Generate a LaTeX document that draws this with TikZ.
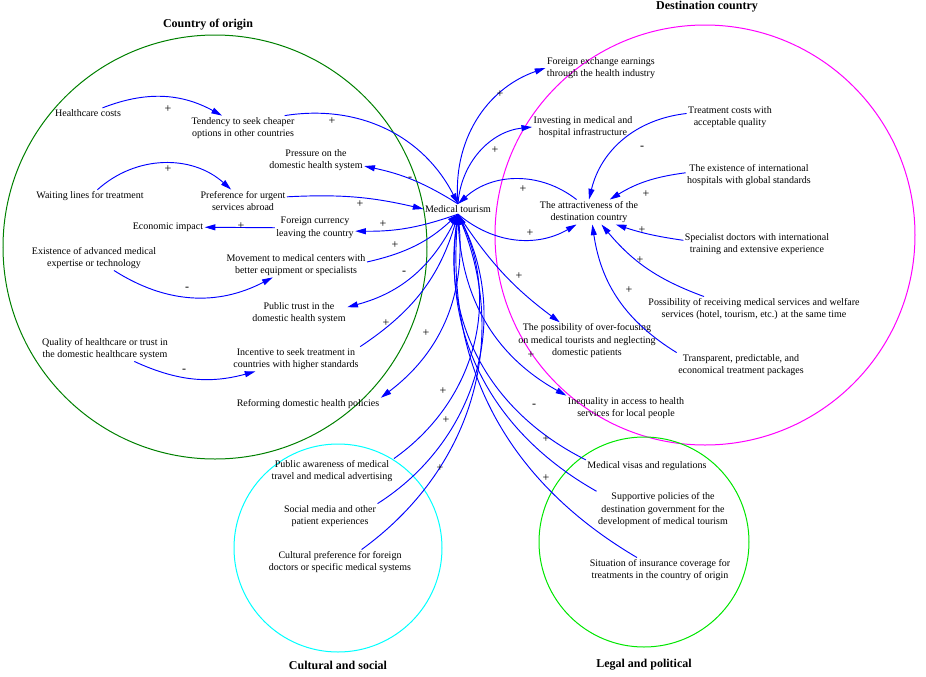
\documentclass[tikz,border=0pt]{standalone}
\usepackage{fontspec}
\setmainfont{Liberation Serif}
\usetikzlibrary{arrows.meta}
\definecolor{rimorigin}{RGB}{0,128,0}
\definecolor{rimdest}{RGB}{255,0,255}
\definecolor{rimculture}{RGB}{0,255,255}
\definecolor{rimlegal}{RGB}{0,230,0}
\definecolor{linkblue}{RGB}{0,0,255}

\begin{document}
\begin{tikzpicture}[x=0.75pt, y=0.75pt,
  var/.style={align=center, inner sep=1pt, font=\fontsize{7.5}{9.4}\selectfont},
  sign/.style={inner sep=0pt, font=\fontsize{9}{10}\selectfont},
  group/.style={font=\fontsize{9}{11}\selectfont\bfseries},
  region/.style={line width=0.75pt},
  link/.style={-{Triangle[length=8pt,width=4.5pt]}, linkblue, line width=0.7pt}]
  \useasboundingbox (0,0) rectangle (926,-676);

  % Group circles
  \draw[region, rimorigin] (215,-247) circle (212);
  \draw[region, rimdest] (705,-235) circle (210);
  \draw[region, rimculture] (338,-548) circle (104);
  \draw[region, rimlegal] (644,-542) circle (105);

  \node[group] (origintitle) at (208,-25) {Country of origin};
  \node[group] (desttitle) at (707,-7) {Destination country};
  \node[group] (culturetitle) at (338,-665) {Cultural and social};
  \node[group] (legaltitle) at (644,-665) {Legal and political};

  % Nodes with absolute positioning
  \node[var] (tourism) at (458,-209) {Medical tourism};
  \node[var] (healthcost) at (88,-113) {Healthcare costs};
  \node[var] (tendency) at (243,-128) {Tendency to seek cheaper\\options in other countries};
  \node[var] (pressure) at (316,-160) {Pressure on the\\domestic health system};
  \node[var] (waiting) at (90,-196) {Waiting lines for treatment};
  \node[var] (preference) at (243,-201) {Preference for urgent\\services abroad};
  \node[var] (economic) at (168,-227) {Economic impact};
  \node[var] (currency) at (315,-228) {Foreign currency\\leaving the country};
  \node[var] (expertise) at (94,-258) {Existence of advanced medical\\expertise or technology};
  \node[var] (movement) at (296,-265) {Movement to medical centers with\\better equipment or specialists};
  \node[var] (trust) at (299,-313) {Public trust in the\\domestic health system};
  \node[var] (quality) at (105,-349) {Quality of healthcare or trust in\\the domestic healthcare system};
  \node[var] (incentive) at (296,-359) {Incentive to seek treatment in\\countries with higher standards};
  \node[var] (reform) at (308,-404) {Reforming domestic health policies};

  \node[var] (earnings) at (601,-68) {Foreign exchange earnings\\through the health industry};
  \node[var] (investing) at (583,-127) {Investing in medical and\\hospital infrastructure};
  \node[var] (costs) at (730,-117) {Treatment costs with\\acceptable quality};
  \node[var] (hospitals) at (749,-175) {The existence of international\\hospitals with global standards};
  \node[var] (attract) at (589,-212) {The attractiveness of the\\destination country};
  \node[var] (doctors) at (757,-244) {Specialist doctors with international\\training and extensive experience};
  \node[var] (welfare) at (754,-309) {Possibility of receiving medical services and welfare\\services (hotel, tourism, etc.) at the same time};
  \node[var] (overfocus) at (587,-341) {The possibility of over-focusing\\on medical tourists and neglecting\\domestic patients};
  \node[var] (packages) at (741,-365) {Transparent, predictable, and\\economical treatment packages};
  \node[var] (inequality) at (626,-408) {Inequality in access to health\\services for local people};

  \node[var] (awareness) at (332,-471) {Public awareness of medical\\travel and medical advertising};
  \node[var] (socialmedia) at (330,-516) {Social media and other\\patient experiences};
  \node[var] (culture) at (340,-562) {Cultural preference for foreign\\doctors or specific medical systems};

  \node[var] (visas) at (647,-466) {Medical visas and regulations};
  \node[var] (policies) at (663,-510) {Supportive policies of the\\destination government for the\\development of medical tourism};
  \node[var] (insurance) at (660,-570) {Situation of insurance coverage for\\treatments in the country of origin};

  % Arrows
  \draw[link] (healthcost) to[bend left=25] (tendency);
  \draw[link] (tendency) to[bend left=36] (tourism.north);
  \draw[link] (tourism.north) to[bend right=10] (pressure);
  \draw[link] (waiting) to[bend left=42] (preference);
  \draw[link] (preference) to[bend left=8] (tourism.west);
  \draw[link] (currency) -- (economic);
  \draw[link] (tourism.south) to[bend left=10] (currency);
  \draw[link] (movement) to[bend right=15] (tourism.south);
  \draw[link] (expertise) to[bend right=30] (movement);
  \draw[link] (tourism.south) to[bend left=25] (trust);
  \draw[link] (quality) to[bend right=20] (incentive);
  \draw[link] (incentive.north east) to[bend right=20] (tourism.south);
  \draw[link] (tourism.south) to[bend left=30] (reform.north east);
  \draw[link] (awareness.north east) to[bend right=40] (tourism.south);
  \draw[link] (socialmedia.north east) to[bend right=42] (tourism.south);
  \draw[link] (culture.30) to[bend right=38] (tourism.south);
  \draw[link] (tourism.north) to[bend left=38] (earnings.west);
  \draw[link] (tourism.north) to[bend left=40] (investing.west);
  \draw[link] (attract.135) to[bend right=40] (tourism.north);
  \draw[link] (tourism.south) to[bend right=35] (attract.-135);
  \draw[link] (costs) to[bend right=35] (attract.north);
  \draw[link] (hospitals) to[bend right=12] (attract.31);
  \draw[link] (doctors) to[bend left=5] (attract.-25);
  \draw[link] (welfare) to[bend left=15] (attract.-45);
  \draw[link] (packages.north west) to[bend left=25] (attract.-75);
  \draw[link] (tourism.south) to[bend right=10] (overfocus);
  \draw[link] (tourism.south) to[bend right=30] (inequality.north west);
  \draw[link] (visas.north west) to[bend left=36] (tourism.south);
  \draw[link] (policies.north west) to[bend left=34] (tourism.south);
  \draw[link] (insurance) to[bend left=32] (tourism.south);

  % Polarity labels with absolute positioning
  \node[sign] (p1) at (168,-109) {+};
  \node[sign] (p2) at (332,-121) {+};
  \node[sign] (p3) at (410,-179) {-};
  \node[sign] (p4) at (168,-169) {+};
  \node[sign] (p5) at (360,-204) {+};
  \node[sign] (p6) at (241,-226) {+};
  \node[sign] (p7) at (383,-224) {+};
  \node[sign] (p8) at (395,-245) {+};
  \node[sign] (p9) at (187,-289) {-};
  \node[sign] (p10) at (404,-273) {-};
  \node[sign] (p11) at (184,-371) {-};
  \node[sign] (p12) at (386,-323) {+};
  \node[sign] (p13) at (426,-333) {+};
  \node[sign] (p14) at (443,-391) {+};
  \node[sign] (p15) at (446,-420) {+};
  \node[sign] (p16) at (440,-468) {+};
  \node[sign] (p17) at (500,-94) {+};
  \node[sign] (p18) at (495,-150) {+};
  \node[sign] (p19) at (523,-189) {+};
  \node[sign] (p20) at (530,-233) {+};
  \node[sign] (p21) at (642,-148) {-};
  \node[sign] (p22) at (646,-194) {+};
  \node[sign] (p23) at (642,-230) {+};
  \node[sign] (p24) at (640,-260) {+};
  \node[sign] (p25) at (629,-290) {+};
  \node[sign] (p26) at (519,-276) {+};
  \node[sign] (p27) at (531,-355) {+};
  \node[sign] (p28) at (534,-406) {-};
  \node[sign] (p29) at (546,-439) {+};
  \node[sign] (p30) at (546,-478) {+};
\end{tikzpicture}
\end{document}
